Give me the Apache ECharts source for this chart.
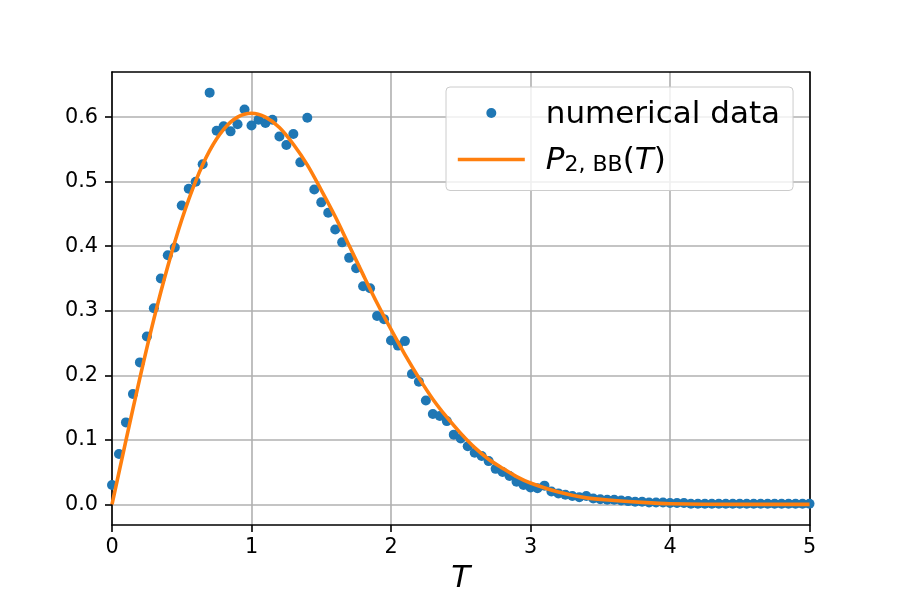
<!DOCTYPE html>
<html>
<head>
<meta charset="utf-8">
<script src="https://cdn.jsdelivr.net/npm/echarts@6/dist/echarts.min.js"></script>
<style>
  html, body { margin: 0; padding: 0; background: #fff; }
  #main { width: 900px; height: 600px; }
</style>
</head>
<body>
<div id="main"></div>
<script>
// numerical data (T, P)
const dataT = [
  0.00, 0.05, 0.10, 0.15, 0.20, 0.25, 0.30, 0.35, 0.40, 0.45,
  0.50, 0.55, 0.60, 0.65, 0.70, 0.75, 0.80, 0.85, 0.90, 0.95,
  1.00, 1.05, 1.10, 1.15, 1.20, 1.25, 1.30, 1.35, 1.40, 1.45,
  1.50, 1.55, 1.60, 1.65, 1.70, 1.75, 1.80, 1.85, 1.90, 1.95,
  2.00, 2.05, 2.10, 2.15, 2.20, 2.25, 2.30, 2.35, 2.40, 2.45,
  2.50, 2.55, 2.60, 2.65, 2.70, 2.75, 2.80, 2.85, 2.90, 2.95,
  3.00, 3.05, 3.10, 3.15, 3.20, 3.25, 3.30, 3.35, 3.40, 3.45,
  3.50, 3.55, 3.60, 3.65, 3.70, 3.75, 3.80, 3.85, 3.90, 3.95,
  4.00, 4.05, 4.10, 4.15, 4.20, 4.25, 4.30, 4.35, 4.40, 4.45,
  4.50, 4.55, 4.60, 4.65, 4.70, 4.75, 4.80, 4.85, 4.90, 4.95,
  5.00
];
const dataP = [
  0.030, 0.078, 0.127, 0.171, 0.220, 0.260, 0.304, 0.350, 0.386, 0.398,
  0.463, 0.489, 0.500, 0.527, 0.638, 0.579, 0.586, 0.578, 0.589, 0.612,
  0.587, 0.596, 0.591, 0.596, 0.570, 0.557, 0.574, 0.530, 0.599, 0.488,
  0.468, 0.452, 0.426, 0.406, 0.382, 0.366, 0.338, 0.335, 0.292, 0.287,
  0.254, 0.246, 0.253, 0.202, 0.190, 0.161, 0.140, 0.137, 0.129, 0.108,
  0.102, 0.090, 0.080, 0.075, 0.067, 0.055, 0.050, 0.044, 0.035, 0.030,
  0.026, 0.025, 0.029, 0.020, 0.017, 0.015, 0.013, 0.011, 0.013, 0.009,
  0.008, 0.007, 0.007, 0.006, 0.005, 0.004, 0.004, 0.003, 0.003, 0.003,
  0.002, 0.002, 0.002, 0.001, 0.001, 0.001, 0.001, 0.001, 0.001, 0.001,
  0.001, 0.001, 0.001, 0.001, 0.001, 0.001, 0.001, 0.001, 0.001, 0.001,
  0.001
];

// fitted curve P_2,BB(T)
const curveT = [
  0.0, 0.1, 0.2, 0.3, 0.4, 0.5, 0.6, 0.7, 0.8, 0.9,
  1.0, 1.1, 1.2, 1.3, 1.4, 1.5, 1.6, 1.7, 1.8, 1.9,
  2.0, 2.1, 2.2, 2.3, 2.4, 2.5, 2.6, 2.7, 2.8, 2.9,
  3.0, 3.2, 3.4, 3.6, 3.8, 4.0, 4.5, 5.0
];
const curveP = [
  0.000, 0.099, 0.196, 0.287, 0.369, 0.441, 0.501, 0.548, 0.581, 0.600,
  0.606, 0.600, 0.584, 0.558, 0.526, 0.487, 0.446, 0.401, 0.356, 0.312,
  0.271, 0.232, 0.196, 0.163, 0.135, 0.110, 0.088, 0.070, 0.056, 0.043,
  0.033, 0.019, 0.010, 0.006, 0.003, 0.001, 0.000, 0.000
];

const xTicks = [0, 1, 2, 3, 4, 5];
const yTicks = [0, 0.1, 0.2, 0.3, 0.4, 0.5, 0.6];

const FONT = 'DejaVu Sans';

const chart = echarts.init(document.getElementById('main'), null, {renderer: 'canvas'});

const frameAxis = {
    axisLine: {show: true, onZero: false, lineStyle: {color: '#000', width: 1.6}},
    axisTick: {show: false},
    axisLabel: {show: false},
    splitLine: {show: false}
};

const option = {
    animation: false,
    backgroundColor: '#fff',
    grid: {left: 112, right: 90.5, top: 72, bottom: 75},
    legend: {
        left: 446,
        top: 87,
        orient: 'vertical',
        padding: [9, 13, 14, 10],
        itemGap: 12.5,
        itemWidth: 67,
        itemHeight: 10,
        backgroundColor: 'rgba(255,255,255,0.8)',
        borderColor: '#cccccc',
        borderWidth: 1,
        borderRadius: 4,
        lineStyle: {width: 3.6},
        data: [
            {name: 'numerical data', icon: 'circle'},
            {name: 'P2BB', itemStyle: {opacity: 0}}
        ],
        formatter: name => name === 'P2BB'
            ? '{i|P}{s|2, BB}{n|(}{i|T}{n|)}'
            : '{n|numerical data}',
        textStyle: {
            fontFamily: FONT,
            fontSize: 31,
            color: '#000',
            lineHeight: 34,
            padding: [0, 0, 0, 16],
            rich: {
                n: {fontFamily: FONT, fontSize: 31, color: '#000', lineHeight: 34, verticalAlign: 'bottom'},
                i: {fontFamily: FONT, fontSize: 31, color: '#000', fontStyle: 'italic', lineHeight: 34, verticalAlign: 'bottom'},
                s: {fontFamily: FONT, fontSize: 22, color: '#000', lineHeight: 25, verticalAlign: 'bottom'}
            }
        }
    },
    xAxis: [
        {
            type: 'value',
            min: 0,
            max: 5,
            interval: 1,
            position: 'bottom',
            name: 'T',
            nameLocation: 'middle',
            nameGap: 38,
            nameTextStyle: {fontFamily: FONT, fontSize: 31, fontStyle: 'italic', color: '#000'},
            axisLine: {show: true, onZero: false, lineStyle: {color: '#000', width: 1.6}},
            axisTick: {show: true, inside: false, length: 7, lineStyle: {color: '#000', width: 1.6}},
            axisLabel: {
                margin: 12,
                fontFamily: FONT,
                fontSize: 20.8,
                color: '#000',
                customValues: xTicks
            },
            splitLine: {show: true, lineStyle: {color: '#b0b0b0', width: 1.6}}
        },
        Object.assign({type: 'value', min: 0, max: 5, position: 'top'}, frameAxis)
    ],
    yAxis: [
        {
            type: 'value',
            min: -0.032,
            max: 0.67,
            splitNumber: 7,
            position: 'left',
            axisLine: {show: true, onZero: false, lineStyle: {color: '#000', width: 1.6}},
            axisTick: {show: true, inside: false, length: 7, lineStyle: {color: '#000', width: 1.6}, customValues: yTicks},
            axisLabel: {
                margin: 14,
                fontFamily: FONT,
                fontSize: 20.8,
                color: '#000',
                customValues: yTicks,
                formatter: v => v.toFixed(1)
            },
            splitLine: {show: true, lineStyle: {color: '#b0b0b0', width: 1.6}}
        },
        Object.assign({type: 'value', min: -0.032, max: 0.67, position: 'right'}, frameAxis)
    ],
    series: [
        {
            name: 'numerical data',
            type: 'scatter',
            symbol: 'circle',
            symbolSize: 10,
            itemStyle: {color: '#1f77b4', opacity: 1},
            data: dataT.map((t, i) => [t, dataP[i]]),
            z: 2
        },
        {
            name: 'P2BB',
            type: 'line',
            showSymbol: false,
            symbol: 'none',
            smooth: 0.3,
            lineStyle: {color: '#ff7f0e', width: 3.6},
            itemStyle: {color: '#ff7f0e'},
            data: curveT.map((t, i) => [t, curveP[i]]),
            z: 3
        }
    ]
};

chart.setOption(option);
</script>
</body>
</html>
